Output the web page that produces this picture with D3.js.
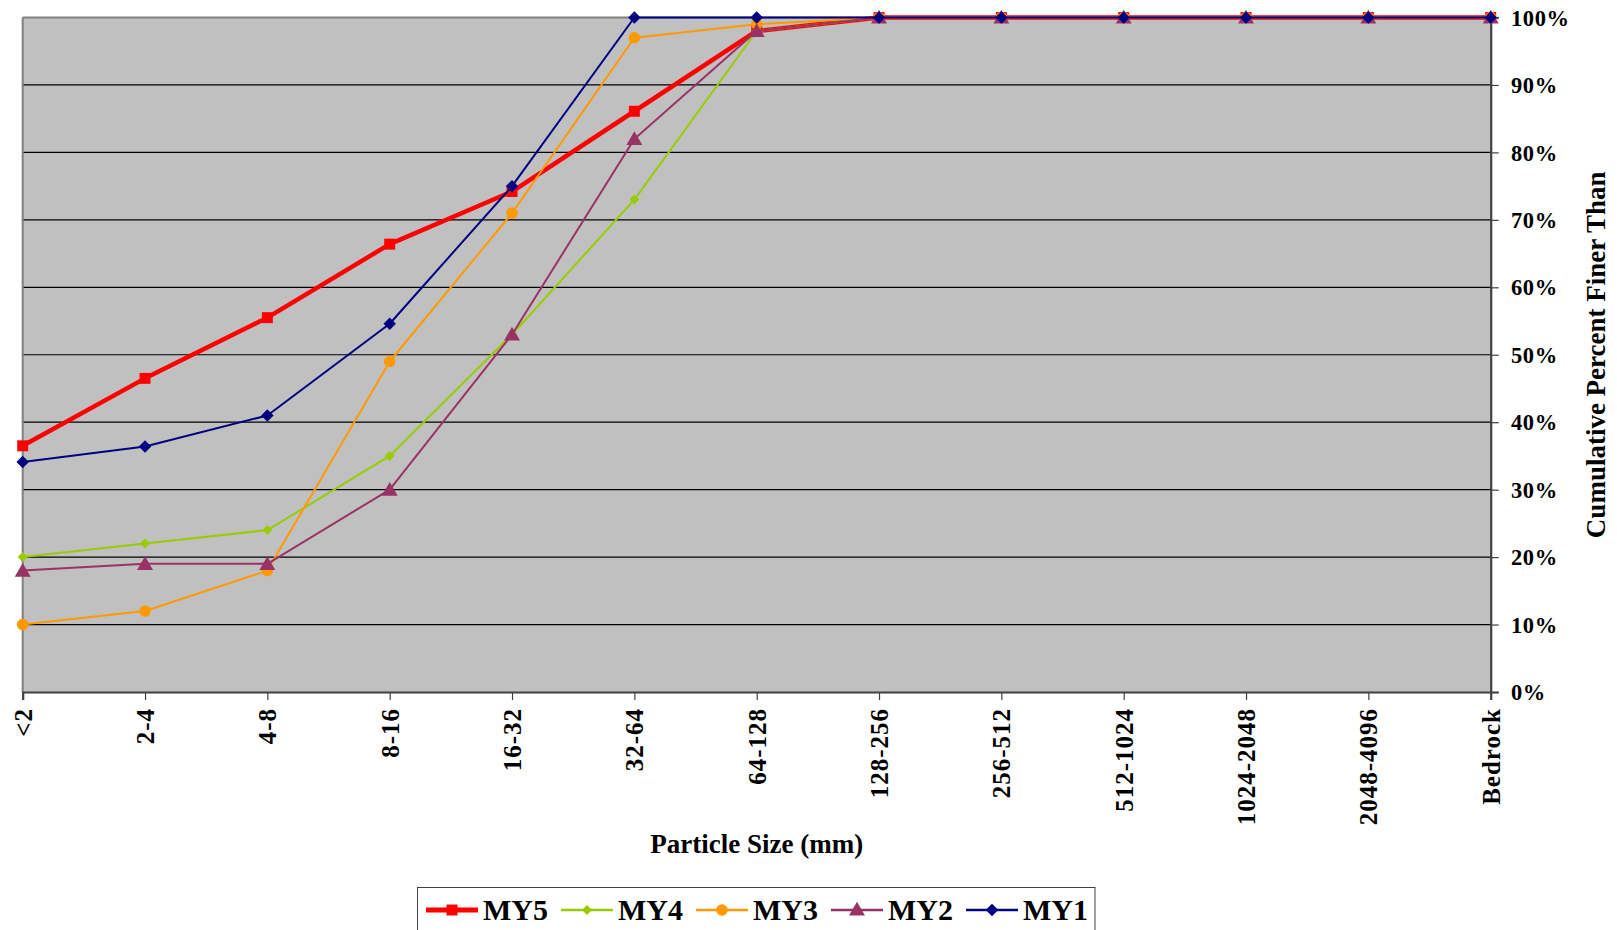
<!DOCTYPE html>
<html>
<head>
<meta charset="utf-8">
<script src="https://cdn.jsdelivr.net/npm/d3@7"></script>
<style>
  html, body { margin: 0; padding: 0; background: #fff; }
  svg { display: block; font-family: "Liberation Serif", "Times New Roman", serif; font-weight: bold; }
</style>
</head>
<body>
<svg id="chart" width="1617" height="930"></svg>
<script>
// Particle size classes (mm)
const categories = ["<2", "2-4", "4-8", "8-16", "16-32", "32-64", "64-128",
  "128-256", "256-512", "512-1024", "1024-2048", "2048-4096", "Bedrock"];

// Cumulative percent finer than, per monitoring year
const my5 = [36.5, 46.5, 55.5, 66.4, 74.2, 86.1, 98, 100, 100, 100, 100, 100, 100];
const my4 = [20, 22, 24, 35, 53, 73, 98, 100, 100, 100, 100, 100, 100];
const my3 = [10, 12, 18, 49, 71, 97, 99, 100, 100, 100, 100, 100, 100];
const my2 = [18, 19, 19, 30, 53, 82, 98, 100, 100, 100, 100, 100, 100];
const my1 = [34.1, 36.4, 41, 54.6, 75, 100, 100, 100, 100, 100, 100, 100, 100];

const yTicks = [0, 10, 20, 30, 40, 50, 60, 70, 80, 90, 100];

const seriesNames = ["MY5", "MY4", "MY3", "MY2", "MY1"];
const seriesValues = [my5, my4, my3, my2, my1];

const styles = {
  MY5: { color: "#FF0000", width: 4.5, symbol: d3.symbolSquare, size: 120 },
  MY4: { color: "#99CC00", width: 2, symbol: "diamond", size: 10 },
  MY3: { color: "#FF9900", width: 2, symbol: d3.symbolCircle, size: 105 },
  MY2: { color: "#993366", width: 2, symbol: d3.symbolTriangle, size: 110 },
  MY1: { color: "#000080", width: 2, symbol: "diamond", size: 12.5 }
};

const svg = d3.select("#chart");
const plot = { left: 22.7, right: 1490.7, top: 17.5, bottom: 692 };

const x = d3.scalePoint().domain(categories).range([plot.left, plot.right]);
const y = d3.scaleLinear().domain([0, 100]).range([plot.bottom, plot.top]);

// Plot background
svg.append("rect")
  .attr("x", plot.left).attr("y", plot.top)
  .attr("width", plot.right - plot.left).attr("height", plot.bottom - plot.top)
  .attr("fill", "#C0C0C0");

// Horizontal gridlines
svg.append("g").selectAll("line")
  .data(yTicks.filter(v => v > 0 && v < 100))
  .join("line")
  .attr("x1", plot.left).attr("x2", plot.right)
  .attr("y1", d => y(d)).attr("y2", d => y(d))
  .attr("stroke", "#000").attr("stroke-width", 1.2);

// Frame: top and left edges
svg.append("line").attr("x1", plot.left).attr("x2", plot.right)
  .attr("y1", plot.top).attr("y2", plot.top)
  .attr("stroke", "#808080").attr("stroke-width", 2);
svg.append("line").attr("x1", plot.left).attr("x2", plot.left)
  .attr("y1", plot.top).attr("y2", plot.bottom)
  .attr("stroke", "#808080").attr("stroke-width", 2);

// Category axis at bottom
const xAxis = svg.append("g")
  .attr("transform", `translate(0,${plot.bottom})`)
  .call(d3.axisBottom(x).tickSize(8).tickFormat(""));
xAxis.select(".domain").attr("stroke", "#404040").attr("stroke-width", 2.2);
xAxis.selectAll(".tick line").attr("stroke", "#404040").attr("stroke-width", 1.2);

svg.append("g").selectAll("text")
  .data(categories)
  .join("text")
  .attr("transform", d => `translate(${x(d)},708) rotate(-90)`)
  .attr("text-anchor", "end")
  .attr("dy", "0.36em")
  .attr("font-size", 25)
  .attr("letter-spacing", 1)
  .attr("fill", "#000")
  .text(d => d);

// Percent axis on the right
const yAxis = svg.append("g")
  .attr("transform", `translate(${plot.right},0)`)
  .call(d3.axisRight(y).tickValues(yTicks).tickSize(8).tickFormat(""));
yAxis.select(".domain").attr("stroke", "#404040").attr("stroke-width", 2.2);
yAxis.selectAll(".tick line").attr("stroke", "#404040").attr("stroke-width", 1.2);

svg.append("g").selectAll("text")
  .data(yTicks)
  .join("text")
  .attr("x", 1511)
  .attr("y", d => y(d))
  .attr("dy", "0.36em")
  .attr("font-size", 22.5)
  .attr("letter-spacing", 0.6)
  .attr("fill", "#000")
  .text(d => d + "%");

// Axis titles
svg.append("text")
  .attr("x", (plot.left + plot.right) / 2).attr("y", 853)
  .attr("text-anchor", "middle").attr("font-size", 27)
  .text("Particle Size (mm)");

svg.append("text")
  .attr("transform", `translate(1596,${(plot.top + plot.bottom) / 2}) rotate(-90)`)
  .attr("text-anchor", "middle").attr("dy", "0.35em").attr("font-size", 27)
  .text("Cumulative Percent Finer Than");

// Marker path generator
function markerPath(name) {
  const s = styles[name];
  if (s.symbol === "diamond") {
    const r = s.size / 2;
    return `M0,${-r}L${r},0L0,${r}L${-r},0Z`;
  }
  return d3.symbol().type(s.symbol).size(s.size)();
}

const line = d3.line().x((d, i) => x(categories[i])).y(d => y(d));

// Series: drawn MY5 first so MY1 ends up on top
seriesNames.forEach((name, k) => {
  const s = styles[name];
  const vals = seriesValues[k];
  const g = svg.append("g").attr("class", "series");
  g.append("path")
    .attr("d", line(vals))
    .attr("fill", "none")
    .attr("stroke", s.color)
    .attr("stroke-width", s.width)
    .attr("stroke-linejoin", "round");
  g.selectAll("path.mark")
    .data(vals)
    .join("path")
    .attr("class", "mark")
    .attr("transform", (d, i) => `translate(${x(categories[i])},${y(d) + (s.symbol === d3.symbolTriangle ? 1.5 : 0)})`)
    .attr("d", markerPath(name))
    .attr("fill", s.color);
});

// Legend
const legend = svg.append("g");
legend.append("rect")
  .attr("x", 417.5).attr("y", 887.5)
  .attr("width", 677.5).attr("height", 60)
  .attr("fill", "#fff").attr("stroke", "#404040").attr("stroke-width", 1);

const legendStarts = [426, 561, 696, 831, 966];
seriesNames.forEach((name, k) => {
  const s = styles[name];
  const lx = legendStarts[k];
  const item = legend.append("g");
  item.append("line")
    .attr("x1", lx).attr("x2", lx + 52)
    .attr("y1", 910).attr("y2", 910)
    .attr("stroke", s.color)
    .attr("stroke-width", s.width + 0.5);
  item.append("path")
    .attr("transform", `translate(${lx + 26},${910 + (s.symbol === d3.symbolTriangle ? 1 : 0)})`)
    .attr("d", markerPath(name))
    .attr("fill", s.color);
  item.append("text")
    .attr("x", lx + 57).attr("y", 920)
    .attr("font-size", 30)
    .attr("fill", "#000")
    .text(name);
});
</script>
</body>
</html>
